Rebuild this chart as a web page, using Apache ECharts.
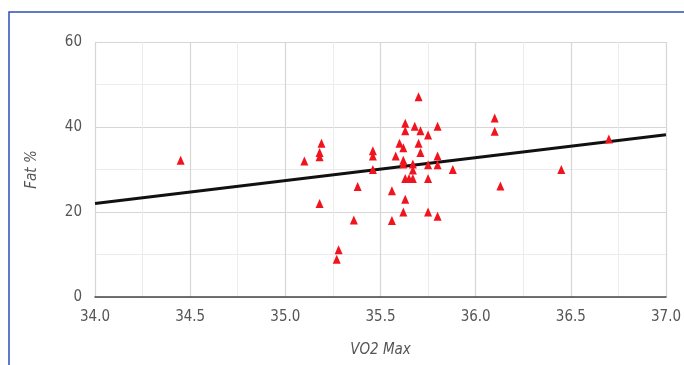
<!DOCTYPE html>
<html>
<head>
<meta charset="utf-8">
<script src="https://cdn.jsdelivr.net/npm/echarts@6/dist/echarts.min.js"></script>
<style>
  html, body { margin: 0; padding: 0; background: #fff; }
  #chart { width: 684px; height: 365px; }
</style>
</head>
<body>
<div id="chart"></div>
<script>
// VO2 max vs body fat
var vo2 = [34.45, 35.10, 35.19, 35.18, 35.18, 35.18, 35.27, 35.28, 35.36, 35.38,
  35.46, 35.46, 35.46, 35.56, 35.56, 35.58, 35.60, 35.62, 35.62, 35.62,
  35.62, 35.63, 35.63, 35.63, 35.63, 35.65, 35.67, 35.67, 35.67, 35.68,
  35.70, 35.70, 35.71, 35.71, 35.75, 35.75, 35.75, 35.75, 35.80, 35.80,
  35.80, 35.80, 35.88, 36.10, 36.10, 36.13, 36.45, 36.70];
var fat = [32.2, 32.0, 36.2, 34.0, 33.0, 22.0, 8.9, 11.1, 18.1, 26.0,
  34.4, 33.2, 30.0, 25.0, 18.0, 33.2, 36.2, 35.1, 32.2, 31.3,
  20.0, 40.9, 39.1, 27.9, 23.0, 27.9, 31.3, 29.9, 27.9, 40.2,
  47.1, 36.2, 39.1, 34.0, 38.1, 31.1, 27.9, 20.0, 40.2, 33.2,
  31.1, 19.0, 30.0, 42.1, 39.0, 26.1, 30.0, 37.2];
// trend line end points
var trendX = [34.0, 37.0];
var trendY = [22.0, 38.2];

var points = vo2.map(function (v, i) { return [v, fat[i]]; });
var trend = trendX.map(function (v, i) { return [v, trendY[i]]; });

var font = "'Liberation Sans Narrow', 'DejaVu Sans Condensed', sans-serif";
var chart = echarts.init(document.getElementById('chart'));
chart.setOption({
  animation: false,
  backgroundColor: '#fff',
  graphic: [{
    type: 'rect',
    shape: { x: 9, y: 12, width: 720, height: 400 },
    style: { fill: 'none', stroke: '#2b4fb8', lineWidth: 1.5 },
    silent: true
  }],
  grid: { left: 95, right: 17, top: 42, bottom: 68 },
  xAxis: {
    type: 'value', min: 34, max: 37, interval: 0.5,
    name: 'VO2 Max', nameLocation: 'middle', nameGap: 46,
    nameTextStyle: { color: '#555', fontSize: 15, fontStyle: 'italic', fontFamily: font },
    axisLine: { show: true, lineStyle: { color: '#444', width: 1.5 } },
    axisTick: { show: false },
    axisLabel: { color: '#555', fontSize: 15, fontFamily: font, margin: 13,
      formatter: function (v) { return v.toFixed(1); } },
    splitLine: { show: true, lineStyle: { color: '#d6d6d6', width: 1.2 } },
    minorTick: { show: false, splitNumber: 2 },
    minorSplitLine: { show: true, lineStyle: { color: '#ececec', width: 1 } }
  },
  yAxis: {
    type: 'value', min: 0, max: 60, interval: 20,
    name: 'Fat %', nameLocation: 'middle', nameGap: 55, nameRotate: 90,
    nameTextStyle: { color: '#555', fontSize: 15, fontStyle: 'italic', fontFamily: font },
    axisLine: { show: false },
    axisTick: { show: false },
    axisLabel: { color: '#555', fontSize: 15, fontFamily: font, margin: 13 },
    splitLine: { show: true, lineStyle: { color: '#d6d6d6', width: 1.2 } },
    minorTick: { show: false, splitNumber: 2 },
    minorSplitLine: { show: true, lineStyle: { color: '#ececec', width: 1 } }
  },
  series: [
    {
      type: 'line',
      data: trend,
      symbol: 'none',
      lineStyle: { color: '#111', width: 3 },
      z: 3
    },
    {
      type: 'scatter',
      data: points,
      symbol: 'triangle',
      symbolSize: [8, 9],
      itemStyle: { color: '#f0141e', opacity: 1 },
      z: 4
    }
  ]
});
</script>
</body>
</html>
